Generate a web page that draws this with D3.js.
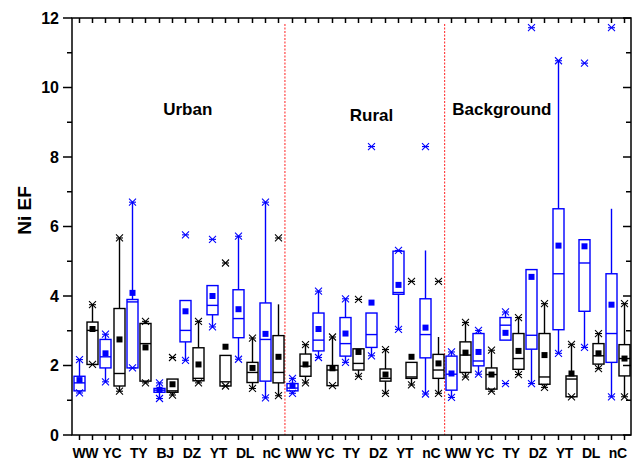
<!DOCTYPE html>
<html><head><meta charset="utf-8">
<script src="https://cdn.jsdelivr.net/npm/d3@7"></script>
<style>body{margin:0;background:#fff}</style>
</head><body>
<svg id="c" width="632" height="466"></svg>
<script>
const groupNames = ["Urban", "Rural", "Background"];
const categories = ["WW","YC","TY","BJ","DZ","YT","DL","nC",
                    "WW","YC","TY","DZ","YT","nC",
                    "WW","YC","TY","DZ","YT","DL","nC"];
const groupSizes = [8, 6, 7];
const yTicks = [0, 2, 4, 6, 8, 10, 12];
const yMinorTicks = [1, 3, 5, 7, 9, 11];

// each box: [min, whiskerLow, q1, median, q3, whiskerHigh, max, mean]
const blueStats = [
  [1.21,1.21,1.27,1.50,1.69,2.17,2.17,1.58],
  [1.53,1.53,1.93,2.25,2.75,2.90,2.90,2.35],
  [1.93,1.93,1.93,3.83,3.90,6.70,6.70,4.09],
  [1.05,1.05,1.23,1.29,1.34,1.50,1.50,1.30],
  [2.15,2.15,2.68,3.01,3.87,3.87,5.76,3.56],
  [3.11,3.11,3.46,3.73,4.30,4.30,5.63,4.00],
  [2.18,2.18,2.80,3.35,4.18,5.72,5.72,3.62],
  [1.07,1.07,1.55,2.75,3.80,6.70,6.70,2.91],
  [1.20,1.20,1.27,1.35,1.48,1.63,1.63,1.42],
  [2.23,2.23,2.42,2.73,3.51,4.14,4.14,3.05],
  [2.09,2.09,2.27,2.63,3.38,3.92,3.92,2.92],
  [2.28,2.28,2.52,2.89,3.51,3.51,8.30,3.81],
  [3.04,3.04,4.05,4.10,5.29,5.31,5.31,4.32],
  [1.18,1.18,2.22,2.89,3.92,5.31,8.30,3.09],
  [1.08,1.08,1.29,1.75,2.27,2.39,2.39,1.77],
  [1.75,1.75,1.99,2.13,2.92,3.01,3.01,2.39],
  [1.48,2.73,2.73,3.16,3.38,3.54,3.54,2.94],
  [1.48,1.48,2.47,2.87,4.76,4.76,11.72,4.55],
  [2.35,2.35,3.03,4.64,6.51,10.77,10.77,5.45],
  [2.52,2.52,3.56,4.95,5.62,5.62,10.70,5.43],
  [1.10,1.10,2.09,2.92,4.64,6.51,11.72,3.75]
];
const blackStats = [
  [2.03,2.03,2.03,3.01,3.25,3.75,3.75,3.05],
  [1.26,1.26,1.41,1.77,3.64,5.67,5.67,2.75],
  [1.50,1.50,1.55,2.63,3.21,3.27,3.27,2.52],
  [1.15,1.15,1.23,1.27,1.61,1.61,2.23,1.46],
  [1.50,1.50,1.56,1.63,2.51,3.27,3.27,2.03],
  [1.41,1.41,1.41,1.53,2.29,2.29,4.95,2.54],
  [1.34,1.34,1.51,1.80,2.09,2.79,2.79,1.93],
  [1.13,1.13,1.50,1.80,2.86,3.76,5.67,2.25],
  [1.50,1.50,1.69,1.98,2.33,2.60,2.60,2.03],
  [1.42,1.42,1.42,1.87,2.00,2.82,2.82,1.92],
  [1.69,1.69,1.87,2.06,2.48,2.48,3.90,2.39],
  [1.20,1.20,1.55,1.63,1.90,2.46,2.46,1.74],
  [1.44,1.44,1.63,1.67,2.09,2.09,4.42,2.25],
  [1.20,1.20,1.63,1.87,2.32,2.82,4.42,2.06],
  [1.67,1.67,1.80,2.30,2.68,3.24,3.24,2.37],
  [1.26,1.26,1.32,1.74,1.93,2.44,2.44,1.74],
  [1.74,1.74,1.89,2.20,2.92,3.38,3.38,2.42],
  [1.37,1.37,1.46,1.67,2.92,3.78,3.78,2.30],
  [1.10,1.10,1.10,1.61,1.70,2.61,2.61,1.77],
  [1.91,1.91,2.04,2.28,2.63,2.92,2.92,2.35],
  [1.10,1.10,1.70,2.20,2.60,3.78,3.78,2.20]
];
const seriesColors = ["#0000ff", "#000000"];

const font = "'Liberation Sans', Arial, Helvetica, sans-serif";
const svg = d3.select("#c");
const L = 72, R = 631, T = 18, B = 435;
const nBoxes = categories.length * 2;
const x = d3.scaleLinear().domain([0.5, nBoxes + 0.5]).range([L, R]);
const y = d3.scaleLinear().domain([0, 12]).range([B, T]);

const boxes = [];
categories.forEach((c, k) => {
  boxes.push({pos: 2 * k + 1, s: blueStats[k], color: seriesColors[0]});
  boxes.push({pos: 2 * k + 2, s: blackStats[k], color: seriesColors[1]});
});

let cum = 0;
const seps = [];
groupSizes.slice(0, -1).forEach(n => { cum += n; seps.push(cum * 2 + 0.5); });
svg.selectAll("line.sep").data(seps).join("line")
  .attr("x1", d => x(d)).attr("x2", d => x(d))
  .attr("y1", T + 6).attr("y2", B)
  .attr("stroke", "#ff2020").attr("stroke-width", 1).attr("stroke-dasharray", "2,1.5");

const bw = 11;
const g = svg.append("g");
boxes.forEach(b => {
  const [mn, wl, q1, md, q3, wh, mx, mean] = b.s;
  const cx = Math.round(x(b.pos)) + 0.5;
  const gg = g.append("g").attr("stroke", b.color).attr("fill", "none").attr("stroke-width", 1.4);
  if (wh > q3) gg.append("line").attr("x1", cx).attr("x2", cx).attr("y1", y(q3)).attr("y2", y(wh));
  if (wl < q1) gg.append("line").attr("x1", cx).attr("x2", cx).attr("y1", y(q1)).attr("y2", y(wl));
  gg.append("rect").attr("x", cx - bw / 2).attr("y", y(q3)).attr("width", bw)
    .attr("height", Math.max(0.5, y(q1) - y(q3))).attr("fill", "#fff");
  gg.append("line").attr("x1", cx - bw / 2).attr("x2", cx + bw / 2).attr("y1", y(md)).attr("y2", y(md));
  [mn, mx].forEach(v => {
    const yy = y(v), s = 3.5;
    const m = gg.append("g").attr("stroke-width", 1.1);
    m.append("line").attr("x1", cx - s).attr("x2", cx + s).attr("y1", yy - s).attr("y2", yy + s);
    m.append("line").attr("x1", cx - s).attr("x2", cx + s).attr("y1", yy + s).attr("y2", yy - s);
    m.append("line").attr("x1", cx - s).attr("x2", cx + s).attr("y1", yy).attr("y2", yy);
  });
  g.append("rect").attr("x", cx - 3).attr("y", y(mean) - 3).attr("width", 6).attr("height", 6)
    .attr("fill", b.color);
});

const axG = svg.append("g").attr("stroke", "#000").attr("stroke-width", 1.5);
axG.append("rect").attr("x", L).attr("y", T).attr("width", R - L).attr("height", B - T).attr("fill", "none");
yTicks.forEach(v => {
  axG.append("line").attr("x1", L - 9).attr("x2", L).attr("y1", y(v)).attr("y2", y(v));
  axG.append("line").attr("x1", R - 8).attr("x2", R).attr("y1", y(v)).attr("y2", y(v));
});
yMinorTicks.forEach(v => {
  axG.append("line").attr("x1", L - 5).attr("x2", L).attr("y1", y(v)).attr("y2", y(v));
  axG.append("line").attr("x1", R - 5).attr("x2", R).attr("y1", y(v)).attr("y2", y(v));
});
d3.range(1, nBoxes + 1).forEach(p => {
  const xx = Math.round(x(p)) + 0.5;
  axG.append("line").attr("x1", xx).attr("x2", xx).attr("y1", B).attr("y2", B + 5);
  axG.append("line").attr("x1", xx).attr("x2", xx).attr("y1", T).attr("y2", T + 5);
});

svg.selectAll("text.yt").data(yTicks).join("text")
  .attr("x", L - 13).attr("y", d => y(d)).attr("dy", "0.36em")
  .attr("text-anchor", "end").attr("font-family", font).attr("font-weight", "bold")
  .attr("font-size", 16).text(d => d);

svg.append("text").attr("transform", `translate(31,${(T + B) / 2 - 16}) rotate(-90)`)
  .attr("text-anchor", "middle").attr("font-family", font).attr("font-weight", "bold")
  .attr("font-size", 19).text("Ni EF");

svg.selectAll("text.cat").data(categories).join("text")
  .attr("x", (d, k) => x(2 * k + 1.5)).attr("y", 458)
  .attr("text-anchor", "middle").attr("font-family", font).attr("font-weight", "bold")
  .attr("font-size", 14).attr("letter-spacing", "-0.3").text(d => d);

const groupLabelPos = [[9.2, 9.2], [23.0, 9.05], [32.8, 9.2]];
svg.selectAll("text.grp").data(groupNames).join("text")
  .attr("x", (d, k) => x(groupLabelPos[k][0])).attr("y", (d, k) => y(groupLabelPos[k][1]))
  .attr("text-anchor", "middle").attr("font-family", font).attr("font-weight", "bold")
  .attr("font-size", 17).text(d => d);
</script>
</body></html>
